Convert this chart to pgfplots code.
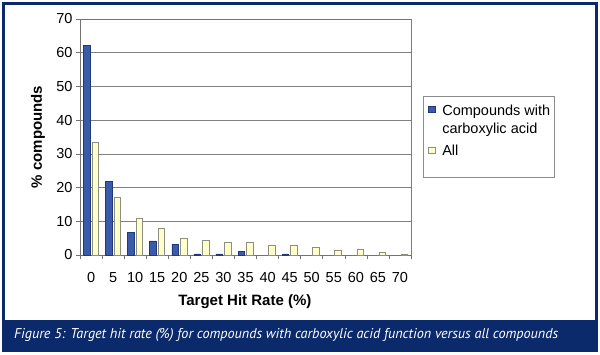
\documentclass[border=0pt]{standalone}
\usepackage{fontspec}
\setmainfont{Liberation Sans}
\newfontfamily\capfont{PT Sans}
\usepackage{graphicx}
\usepackage{pgfplots}
\pgfplotsset{compat=1.18}
\definecolor{navy}{HTML}{0B2A6B}
\definecolor{barblue}{HTML}{3A5BAA}
\definecolor{barblueedge}{HTML}{22387A}
\definecolor{baryellow}{HTML}{FFFFCC}
\definecolor{yedge}{HTML}{8E8E80}
\begin{document}
\begin{tikzpicture}
\useasboundingbox (0pt,0pt) rectangle (600pt,354pt);
\fill[white] (0pt,0pt) rectangle (600pt,354pt);
\fill[navy] (2pt,2pt) rectangle (598pt,34.5pt);
\draw[navy, line width=3pt] (3pt,3.5pt) rectangle (596.5pt,350.5pt);
\begin{axis}[
  at={(80pt,99pt)}, anchor=south west,
  scale only axis, width=331pt, height=236pt,
  ybar, bar width=6.5pt,
  xmin=-0.5, xmax=14.5, ymin=0, ymax=70,
  ytick={0,10,...,70},
  xtick={-0.5,0.5,...,14.5},
  x tick label as interval,
  xticklabels={0,5,10,15,20,25,30,35,40,45,50,55,60,65,70},
  tick align=outside, tick pos=left,
  major tick length=4pt,
  tick style={draw=black!55, line width=0.6pt},
  axis line style={draw=black!55, line width=0.6pt},
  ymajorgrids, grid style={draw=black!50, line width=0.6pt},
  /pgf/number format/assume math mode=true,
  ticklabel style={font=\fontsize{14.5}{14.5}\selectfont},
  xticklabel style={yshift=-10pt},
  yticklabel style={xshift=0pt},
  xlabel={\bfseries Target Hit Rate (\%)},
  ylabel={\bfseries \% compounds},
  label style={font=\fontsize{15}{15}\selectfont},
  xlabel style={at={(axis description cs:0.498,-0.199)}, anchor=center},
  ylabel style={at={(axis description cs:-0.127,0.5)}, anchor=center, rotate=0},
  legend style={at={(axis description cs:1.043,0.655)}, anchor=north west, draw=none, fill=none,
    font=\fontsize{14.5}{18}\selectfont, row sep=5pt, nodes={text depth={}}},
  legend cell align=left,
  legend image code/.code={\draw[#1, line width=0.5pt] (0pt,-3.3pt) rectangle (6.6pt,3.3pt); \path[draw=none,fill=none] (0pt,0pt) -- (11.6pt,0pt);},
]
\addplot[fill=barblue, draw=barblueedge, line width=0.5pt,
  legend image code/.code={\draw[fill=barblue, draw=barblueedge, line width=0.5pt] (0pt,7.7pt) rectangle (6.6pt,14.3pt); \path[draw=none,fill=none] (0pt,-14.3pt) -- (11.6pt,-14.3pt);}] coordinates {
 (0,62.2) (1,21.9) (2,6.8) (3,4.2) (4,3.2) (5,0.3) (6,0.3) (7,1.0) (9,0.3)
};
\addplot[fill=baryellow, draw=yedge, line width=0.6pt] coordinates {
 (0,33.4) (1,17.1) (2,10.8) (3,7.9) (4,4.9) (5,4.4) (6,3.8) (7,3.7) (8,3.0) (9,3.0)
 (10,2.4) (11,1.5) (12,1.7) (13,0.8) (14,0.3)
};
\legend{\vtop{\hbox{Compounds with}\hbox{carboxylic acid}}, All}
\draw[draw=black!25, line width=0.6pt] (axis description cs:1,0) -- (axis description cs:1,1);
\end{axis}
\draw[draw=black!45, line width=0.6pt] (423.5pt,177pt) rectangle (554pt,258pt);
\node[white, anchor=west, inner sep=0pt] at (14pt,19pt) {\resizebox{544pt}{!}{\capfont\itshape Figure 5: Target hit rate (\%) for compounds with carboxylic acid function versus all compounds}};
\end{tikzpicture}
\end{document}
